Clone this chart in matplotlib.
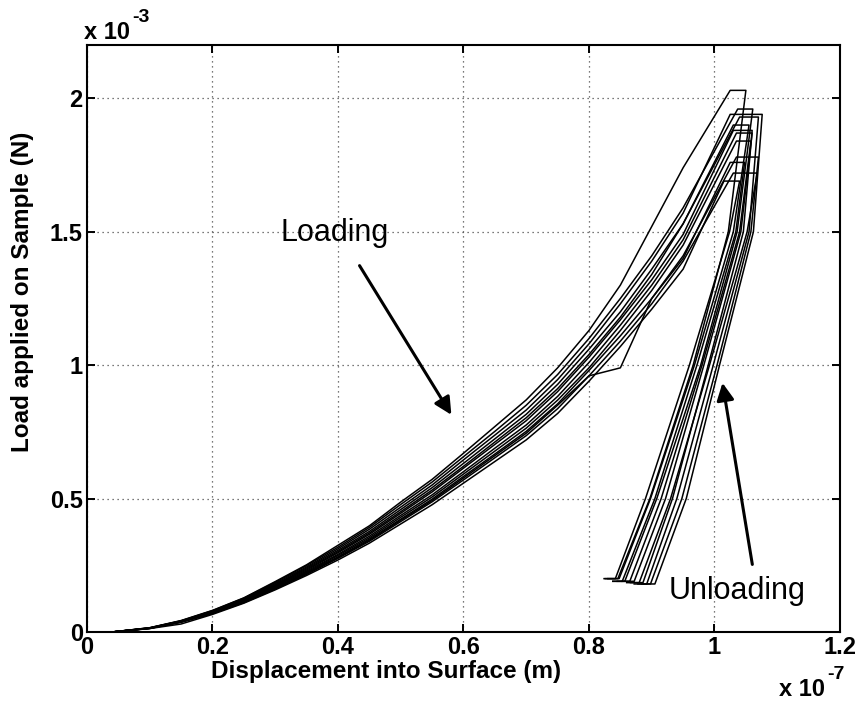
#!/usr/bin/env python3
import matplotlib
matplotlib.use("Agg")
import matplotlib.pyplot as plt
from matplotlib.ticker import FormatStrFormatter

# displacement in 1e-7 m, load in 1e-3 N
load_x = [0.04, 0.10, 0.15, 0.20, 0.25, 0.30, 0.35, 0.40, 0.45, 0.50,
          0.55, 0.60, 0.65, 0.70, 0.75, 0.80, 0.85, 0.90, 0.95]

load_y = [
    [0.00, 0.016, 0.043, 0.081, 0.128, 0.189, 0.252, 0.325, 0.398, 0.487, 0.572, 0.670, 0.770, 0.870, 0.990, 1.130, 1.300, 1.520, 1.740],
    [0.00, 0.016, 0.042, 0.080, 0.127, 0.186, 0.249, 0.318, 0.392, 0.478, 0.562, 0.657, 0.752, 0.850, 0.965, 1.100, 1.250, 1.410, 1.590],
    [0.00, 0.015, 0.041, 0.078, 0.124, 0.182, 0.244, 0.312, 0.385, 0.468, 0.551, 0.645, 0.738, 0.832, 0.946, 1.080, 1.230, 1.390, 1.570],
    [0.00, 0.015, 0.041, 0.076, 0.122, 0.178, 0.240, 0.306, 0.377, 0.459, 0.541, 0.632, 0.724, 0.816, 0.928, 1.060, 1.200, 1.360, 1.530],
    [0.00, 0.014, 0.040, 0.075, 0.121, 0.176, 0.236, 0.301, 0.371, 0.451, 0.532, 0.621, 0.712, 0.803, 0.912, 1.040, 1.180, 1.340, 1.530],
    [0.00, 0.015, 0.039, 0.074, 0.118, 0.173, 0.232, 0.297, 0.366, 0.445, 0.525, 0.614, 0.703, 0.792, 0.901, 1.030, 1.170, 1.320, 1.490],
    [0.00, 0.014, 0.039, 0.073, 0.116, 0.170, 0.228, 0.291, 0.359, 0.437, 0.514, 0.601, 0.689, 0.776, 0.883, 1.010, 1.150, 1.300, 1.470],
    [0.00, 0.014, 0.038, 0.072, 0.115, 0.167, 0.224, 0.287, 0.353, 0.430, 0.506, 0.592, 0.678, 0.764, 0.869, 0.990, 1.130, 1.280, 1.450],
    [0.00, 0.014, 0.037, 0.070, 0.112, 0.163, 0.219, 0.279, 0.344, 0.419, 0.493, 0.577, 0.661, 0.745, 0.850, 0.960, 0.990, 1.250, 1.400],
    [0.00, 0.014, 0.038, 0.070, 0.113, 0.164, 0.221, 0.282, 0.348, 0.423, 0.498, 0.583, 0.667, 0.752, 0.855, 0.980, 1.110, 1.250, 1.410],
    [0.00, 0.013, 0.037, 0.069, 0.110, 0.161, 0.216, 0.276, 0.340, 0.414, 0.488, 0.570, 0.653, 0.736, 0.837, 0.960, 1.090, 1.230, 1.390],
    [0.00, 0.013, 0.030, 0.066, 0.108, 0.158, 0.212, 0.270, 0.333, 0.405, 0.477, 0.558, 0.639, 0.720, 0.819, 0.940, 1.070, 1.210, 1.360],
]

peak_x0 = [1.025, 1.037, 1.025, 1.040, 1.030, 1.030, 1.035, 1.035, 1.025, 1.035, 1.030, 1.015]
peak_x1 = [1.050, 1.061, 1.076, 1.070, 1.055, 1.060, 1.060, 1.058, 1.048, 1.070, 1.068, 1.040]
peak_y = [2.03, 1.96, 1.94, 1.93, 1.90, 1.88, 1.87, 1.84, 1.76, 1.78, 1.72, 1.69]

unload_levels = [1.5, 1.0, 0.5]
unload_x = [
    [1.022, 0.966, 0.897, 0.846],
    [1.036, 0.978, 0.908, 0.857],
    [1.062, 1.008, 0.955, 0.905],
    [1.055, 0.998, 0.940, 0.892],
    [1.030, 0.968, 0.898, 0.848],
    [1.046, 0.990, 0.933, 0.886],
    [1.042, 0.983, 0.922, 0.872],
    [1.040, 0.980, 0.915, 0.865],
    [1.034, 0.972, 0.905, 0.853],
    [1.058, 1.004, 0.948, 0.898],
    [1.052, 0.992, 0.930, 0.880],
    [1.024, 0.960, 0.890, 0.842],
]
foot_x = [0.826, 0.838, 0.884, 0.872, 0.830, 0.866, 0.853, 0.845, 0.838, 0.878, 0.860, 0.824]
foot_y = [0.20, 0.19, 0.18, 0.18, 0.20, 0.185, 0.19, 0.19, 0.19, 0.18, 0.185, 0.20]

x_ticks = [0, 0.2, 0.4, 0.6, 0.8, 1.0, 1.2]
y_ticks = [0, 0.5, 1.0, 1.5, 2.0]

FONT = "Liberation Sans"
W, H = 862, 701

fig = plt.figure(figsize=(W / 100, H / 100), dpi=100)
ax = fig.add_axes([87 / W, 69 / H, 753 / W, 587 / H])

for i, ys in enumerate(load_y):
    xs = list(load_x) + [peak_x0[i], peak_x1[i]] + unload_x[i] + [foot_x[i]]
    yv = list(ys) + [peak_y[i], peak_y[i]] + unload_levels + [foot_y[i], foot_y[i]]
    ax.plot(xs, yv, color="black", lw=1.1)

ax.set_xlim(0, 1.2)
ax.set_ylim(0, 2.2)
ax.set_xticks(x_ticks)
ax.set_yticks(y_ticks)
ax.xaxis.set_major_formatter(FormatStrFormatter("%g"))
ax.yaxis.set_major_formatter(FormatStrFormatter("%g"))
ax.grid(True, color="0.3", linestyle=(0, (1, 3)), lw=0.9)
ax.tick_params(direction="in", top=True, right=True, length=6, width=1.4, pad=3)
for lab in ax.get_xticklabels() + ax.get_yticklabels():
    lab.set_fontfamily(FONT)
    lab.set_fontweight("bold")
    lab.set_fontsize(17)
for sp in ax.spines.values():
    sp.set_linewidth(1.5)

ax.text(0.397, -0.068, "Displacement into Surface (m)", transform=ax.transAxes,
        ha="center", va="center", fontsize=17.5, fontweight="bold", family=FONT)
ax.text(-0.085, 0.58, "Load applied on Sample (N)", transform=ax.transAxes, rotation=90,
        ha="center", va="center", fontsize=17.5, fontweight="bold", family=FONT)

# exponent labels, MATLAB style
fig.text(84 / W, 1 - 39 / H, "x 10", fontsize=17, fontweight="bold", family=FONT, ha="left", va="baseline")
fig.text(132 / W, 1 - 22 / H, "-3", fontsize=14, fontweight="bold", family=FONT, ha="left", va="baseline")
fig.text(779 / W, 1 - 696 / H, "x 10", fontsize=17, fontweight="bold", family=FONT, ha="left", va="baseline")
fig.text(827 / W, 1 - 679 / H, "-7", fontsize=14, fontweight="bold", family=FONT, ha="left", va="baseline")

ax.text(0.308, 1.494, "Loading", fontsize=22, family=FONT, ha="left", va="center")
ax.annotate("", xy=(0.583, 0.805), xytext=(0.432, 1.382),
            arrowprops=dict(arrowstyle="-|>", lw=2.2, color="black", mutation_scale=26))
ax.text(0.927, 0.154, "Unloading", fontsize=22, family=FONT, ha="left", va="center")
ax.annotate("", xy=(1.012, 0.944), xytext=(1.061, 0.243),
            arrowprops=dict(arrowstyle="-|>", lw=2.2, color="black", mutation_scale=26))

fig.savefig("out.png", dpi=100)
